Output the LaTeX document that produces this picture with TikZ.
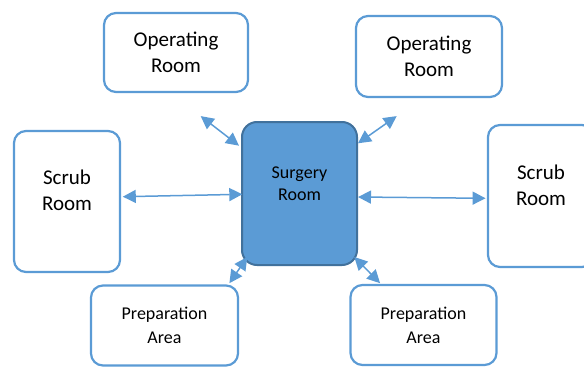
\documentclass[tikz,border=0pt]{standalone}
\usepackage{fontspec}
\setmainfont{Carlito}
\usetikzlibrary{positioning,arrows.meta}
\definecolor{roomblue}{HTML}{5B9BD5}
\definecolor{roomedge}{HTML}{41719C}

\begin{document}
\begin{tikzpicture}[x=1pt,y=-1pt,on grid,
    room/.style={draw=roomblue,line width=2.2pt,fill=white,rounded corners=12pt,
        inner sep=0pt,align=center,font=\fontsize{21}{26}\selectfont},
    core/.style={draw=roomedge,line width=2pt,fill=roomblue,rounded corners=15pt,
        inner sep=0pt,align=center,font=\fontsize{18}{22}\selectfont,
        minimum width=115pt,minimum height=143pt,text depth=20pt},
    link/.style={roomblue,line width=1.5pt,{Triangle[length=13pt,width=13pt]}-{Triangle[length=13pt,width=13pt]}}]
    \useasboundingbox (0,0) rectangle (584,367);

    \node[core] (sr) at (299.5,193.5) {Surgery\\Room};
    \node[room,minimum width=144pt,minimum height=79pt] [above left=141pt and 123.5pt of sr] (orl) {Operating\\Room};
    \node[room,minimum width=146pt,minimum height=81pt] [above right=137pt and 129.5pt of sr] (orr) {Operating\\Room};
    \node[room,minimum width=106pt,minimum height=141pt,text depth=22pt] [below left=8pt and 232.5pt of sr] (scl) {Scrub\\Room};
    \node[room,minimum width=106pt,minimum height=142pt,text depth=22pt] [below right=2.5pt and 241.5pt of sr] (scr) {Scrub\\Room};
    \node[room,minimum width=147pt,minimum height=80pt,font=\fontsize{18}{24}\selectfont] [below left=132pt and 135pt of sr] (prl) {Preparation\\Area};
    \node[room,minimum width=146pt,minimum height=80pt,font=\fontsize{18}{24}\selectfont] [below right=131.5pt and 124pt of sr] (prr) {Preparation\\Area};

    % loose ends of the links
    \coordinate (orl-end) at ([shift={(24.7,23)}]orl.south);
    \coordinate (orr-end) at ([shift={(-32.3,18)}]orr.south);
    \coordinate (prl-end) at ([shift={(-9.7,-1.2)}]prl.north east);
    \coordinate (prr-end) at ([shift={(30.7,-0.7)}]prr.north west);

    \draw[link] (orl-end) -- ([shift={(-2,24.7)}]sr.north west);
    \draw[link] (orr-end) -- ([shift={(0,22.3)}]sr.north east);
    \draw[link] ([shift={(1.7,-4.8)}]scl.east) -- ([shift={(1.3,0.8)}]sr.west);
    \draw[link] ([shift={(0,3.5)}]sr.east) -- ([shift={(-1.3,2.3)}]scr.west);
    \draw[link] (prl-end) -- ([shift={(6.3,-9)}]sr.south west);
    \draw[link] (prr-end) -- ([shift={(-3.7,-9)}]sr.south east);
\end{tikzpicture}
\end{document}
